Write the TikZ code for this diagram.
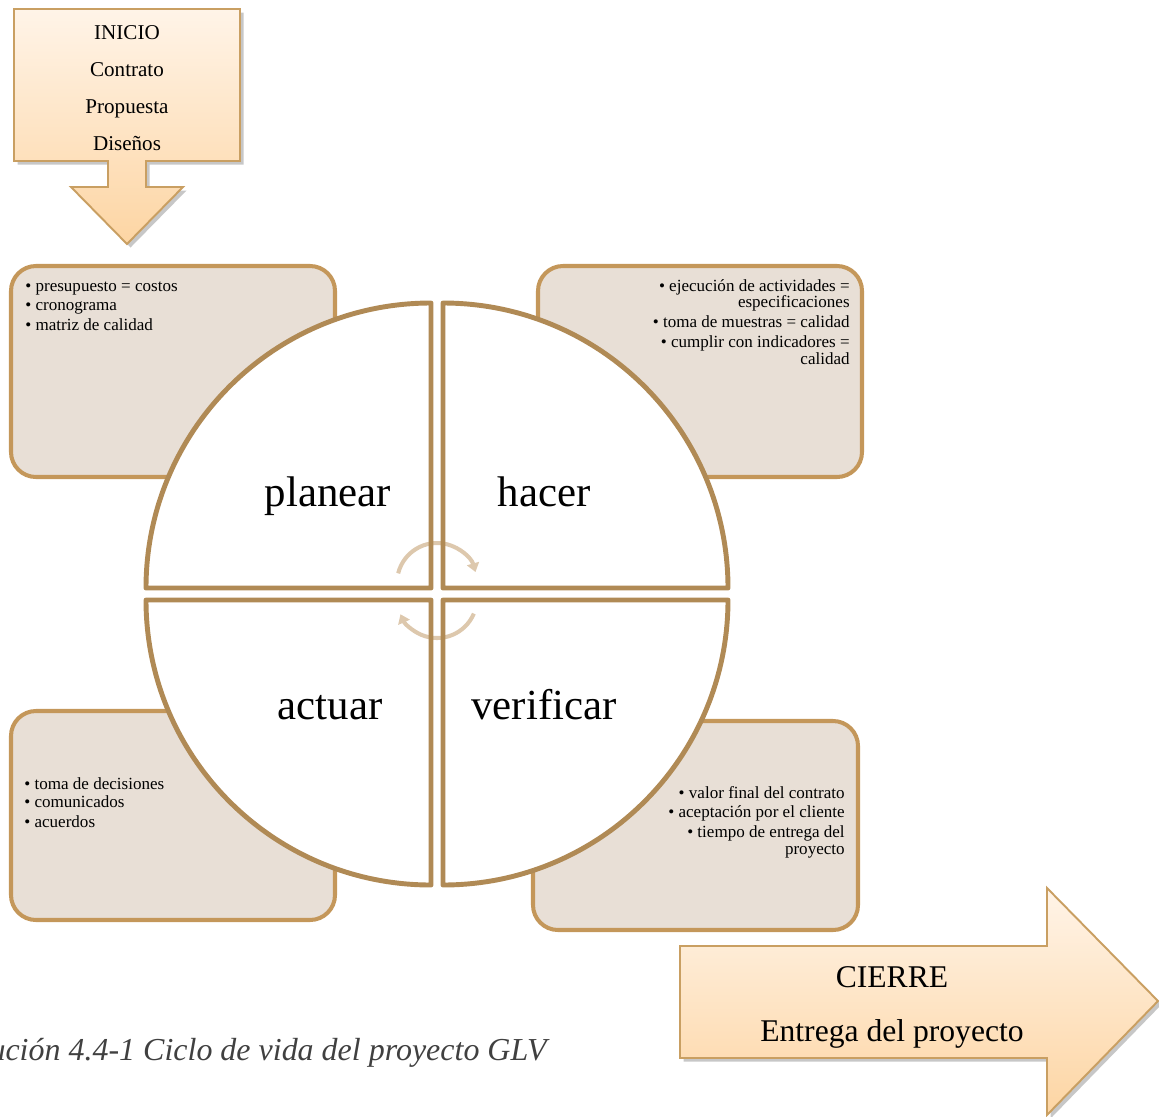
\documentclass[tikz,border=0pt]{standalone}
\usepackage{fontspec}
\setmainfont{Liberation Serif}
\usetikzlibrary{arrows.meta,shadows}

\definecolor{boxfill}{HTML}{E8DFD6}
\definecolor{boxline}{HTML}{C4975A}
\definecolor{ringline}{HTML}{B08A55}
\definecolor{cyclearrow}{HTML}{DDC8AD}
\definecolor{calltop}{HTML}{FFF4E8}
\definecolor{callbot}{HTML}{FDD5A3}
\definecolor{callline}{HTML}{C99F62}
\definecolor{captext}{HTML}{404040}

\begin{document}
\begin{tikzpicture}[x=0.02cm,y=0.02cm,
  notebox/.style={draw=boxline, line width=2.3pt, fill=boxfill, rounded corners=0.5cm},
  quadfill/.style={fill=white},
  quadline/.style={draw=ringline, line width=2.8pt, line join=round},
  cyc/.style={draw=cyclearrow, line width=2.3pt, -{Triangle[length=5pt,width=7pt]}},
  callshape/.style={draw=callline, line width=1.1pt, top color=calltop, bottom color=callbot,
    drop shadow={shadow xshift=2pt, shadow yshift=-2pt, fill=black, opacity=0.22}},
  phase/.style={inner sep=0, anchor=base, font=\fontsize{24.4}{28}\selectfont},
  itemL/.style={inner sep=0, anchor=base west, font=\fontsize{9.7}{11}\selectfont},
  itemR/.style={inner sep=0, anchor=base east, font=\fontsize{9.7}{11}\selectfont}]

\clip (0,0) rectangle (1159,-1116);

% ---- note boxes behind the cycle ----
\path[notebox] (11,-266) rectangle (335,-477);
\path[notebox] (538,-266) rectangle (862,-477);
\path[notebox] (11,-711) rectangle (335,-920);
\path[notebox] (533,-721) rectangle (858,-930);

% ---- four quadrants of the cycle: fill ----
\path[quadfill] (431,-588) -- (146,-588) arc[start angle=180, end angle=90, radius=285] -- cycle;
\path[quadfill] (443,-588) -- (443,-303) arc[start angle=90, end angle=0, radius=285] -- cycle;
\path[quadfill] (431,-600) -- (431,-885) arc[start angle=270, end angle=180, radius=285] -- cycle;
\path[quadfill] (443,-600) -- (728,-600) arc[start angle=0, end angle=-90, radius=285] -- cycle;

% ---- circular arrows in the centre ----
\draw[cyc] (437,-583) ++(166:40) arc[start angle=166, end angle=16, radius=40];
\draw[cyc] (437,-598) ++(-23:40) arc[start angle=-23, end angle=-156, radius=40];

% ---- four quadrants of the cycle: outline ----
\path[quadline] (431,-588) -- (146,-588) arc[start angle=180, end angle=90, radius=285] -- cycle;
\path[quadline] (443,-588) -- (443,-303) arc[start angle=90, end angle=0, radius=285] -- cycle;
\path[quadline] (431,-600) -- (431,-885) arc[start angle=270, end angle=180, radius=285] -- cycle;
\path[quadline] (443,-600) -- (728,-600) arc[start angle=0, end angle=-90, radius=285] -- cycle;

% ---- phase names ----
\node[phase] (planear) at (328,-506) {planear};
\node[phase] (hacer) at (544,-506) {hacer};
\node[phase] (actuar) at (330,-719) {actuar};
\node[phase] (verificar) at (544,-719) {verificar};

% ---- box contents ----
\node[itemL] (pl1) at (25,-291.5) {\textbullet\ presupuesto = costos};
\node[itemL] (pl2) at (25,-310.5) {\textbullet\ cronograma};
\node[itemL] (pl3) at (25,-330.5) {\textbullet\ matriz de calidad};

\node[itemR] (ha1) at (850,-291.7) {\textbullet\ ejecución de actividades =};
\node[itemR] (ha2) at (850,-307.7) {especificaciones};
\node[itemR] (ha3) at (850,-327.7) {\textbullet\ toma de muestras = calidad};
\node[itemR] (ha4) at (850,-347.3) {\textbullet\ cumplir con indicadores =};
\node[itemR] (ha5) at (850,-364) {calidad};

\node[itemL] (ac1) at (24,-789) {\textbullet\ toma de decisiones};
\node[itemL] (ac2) at (24,-807.7) {\textbullet\ comunicados};
\node[itemL] (ac3) at (24,-827.7) {\textbullet\ acuerdos};

\node[itemR] (ve1) at (845,-798) {\textbullet\ valor final del contrato};
\node[itemR] (ve2) at (845,-817.7) {\textbullet\ aceptación por el cliente};
\node[itemR] (ve3) at (845,-837.7) {\textbullet\ tiempo de entrega del};
\node[itemR] (ve4) at (845,-854) {proyecto};

% ---- start callout (box with down arrow) ----
\path[callshape] (14,-9) -- (240,-9) -- (240,-161) -- (146,-161) -- (146,-187) -- (183,-187)
  -- (127,-244) -- (71,-187) -- (108,-187) -- (108,-161) -- (14,-161) -- cycle;
\node[inner sep=0, anchor=north, align=center, font=\fontsize{12}{21}\selectfont] (inicio)
  at (127,-25) {INICIO\\Contrato\\Propuesta\\Diseños};

% ---- closing arrow ----
\path[callshape] (680,-946) -- (1047,-946) -- (1047,-888) -- (1158,-1001) -- (1047,-1115)
  -- (1047,-1058) -- (680,-1058) -- cycle;
\node[inner sep=0, anchor=north, align=center, font=\fontsize{18}{31}\selectfont] (cierre)
  at (892,-966) {CIERRE\\Entrega del proyecto};

% ---- caption ----
\node[inner sep=0, anchor=base east, text=captext, font=\fontsize{18.2}{22}\selectfont\itshape] (caption)
  at (547,-1060) {ución 4.4-1 Ciclo de vida del proyecto GLV};
\end{tikzpicture}
\end{document}
